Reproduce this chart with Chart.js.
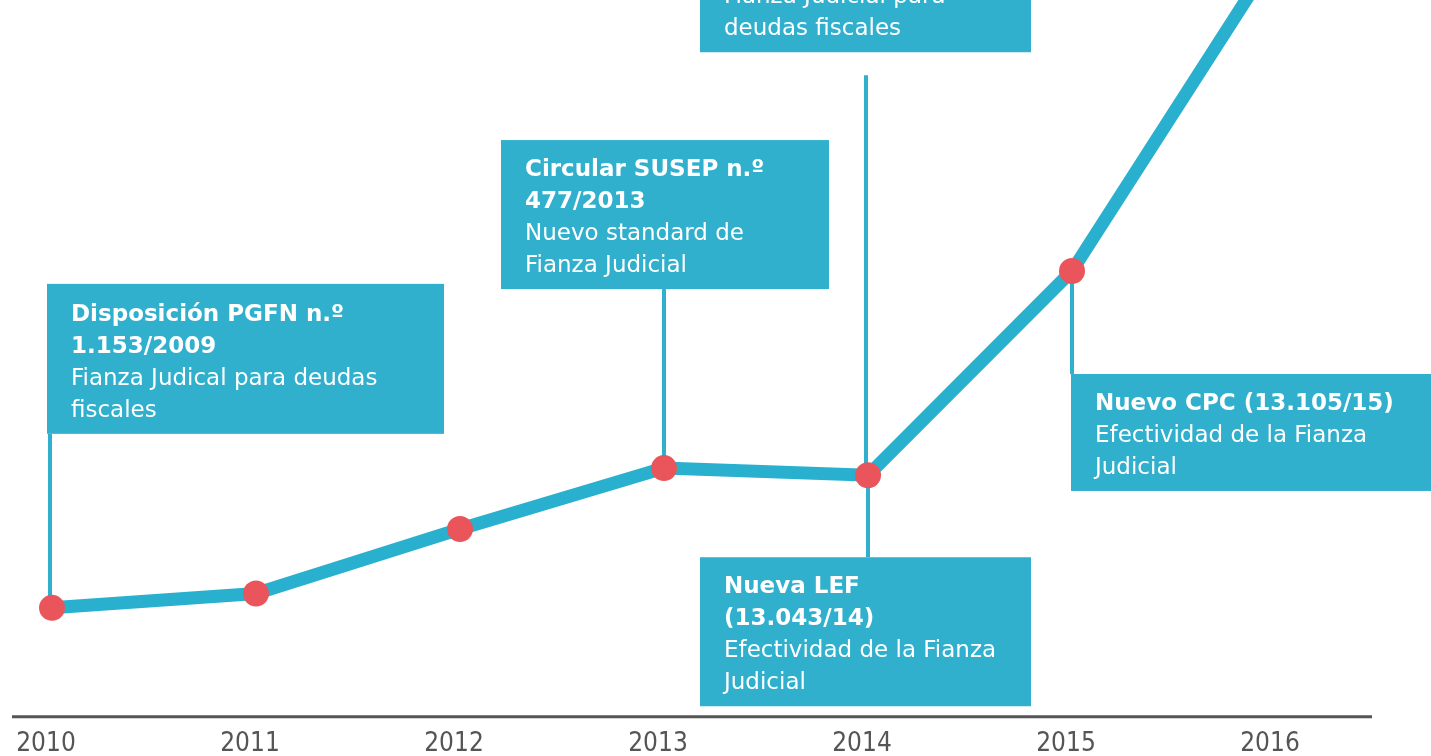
<!DOCTYPE html>
<html>
<head>
<meta charset="utf-8">
<script src="https://cdn.jsdelivr.net/npm/chart.js@4"></script>
<style>
html,body{margin:0;padding:0;background:#fff;}
#wrap{width:1431px;height:756px;position:relative;overflow:hidden;}
</style>
</head>
<body>
<div id="wrap"><canvas id="fianzaChart"></canvas></div>
<script>
const years = ["2010", "2011", "2012", "2013", "2014", "2015", "2016"];
const volume = [15.2, 17.2, 26.2, 34.7, 33.7, 62.2, 106.5];

// milestone boxes: which point they hang from, the text, and where the box sits relative to it
const notes = [
    {at: 0, title: ["Disposición PGFN n.º", "1.153/2009"], body: ["Fianza Judical para deudas", "fiscales"], dx: -5, dy: -324, w: 397, h: 150, cx: -2, gap: 0},
    {at: 3, title: ["Circular SUSEP n.º", "477/2013"], body: ["Nuevo standard de", "Fianza Judicial"], dx: -163, dy: -328, w: 328, h: 149, cx: 0, gap: 0},
    {at: 4, title: [], body: ["Fianza Judicial para", "deudas fiscales"], dx: -168, dy: -574, w: 331, h: 151, cx: -2, gap: 23},
    {at: 4, title: ["Nueva LEF", "(13.043/14)"], body: ["Efectividad de la Fianza", "Judicial"], dx: -168, dy: 82, w: 331, h: 149, cx: 0, gap: 0},
    {at: 5, title: ["Nuevo CPC (13.105/15)"], body: ["Efectividad de la Fianza", "Judicial"], dx: -1, dy: 103, w: 362, h: 117, cx: 0, gap: 0}
];

const teal = "#31b0ce";
const lineTeal = "#2ab0cf";
const red = "#e9555a";
const boxFont = "'DejaVu Sans', sans-serif";

const notesPlugin = {
    id: "notes",
    beforeDatasetsDraw(chart) {
        const ctx = chart.ctx;
        const pts = chart.getDatasetMeta(0).data;
        const area = chart.chartArea;

        // base line of the time axis
        ctx.save();
        ctx.strokeStyle = "#555";
        ctx.lineWidth = 3;
        ctx.beginPath();
        ctx.moveTo(12, area.bottom);
        ctx.lineTo(1372, area.bottom);
        ctx.stroke();

        notes.forEach(n => {
            const p = pts[n.at];
            const left = p.x + n.dx;
            const top = p.y + n.dy;
            const bottom = top + n.h;

            ctx.strokeStyle = teal;
            ctx.lineWidth = 4;
            ctx.beginPath();
            const lx = p.x + n.cx;
            if (top > p.y) {
                ctx.moveTo(lx, p.y);
                ctx.lineTo(lx, top);
            } else {
                ctx.moveTo(lx, bottom + n.gap);
                ctx.lineTo(lx, p.y);
            }
            ctx.stroke();

            ctx.fillStyle = teal;
            ctx.fillRect(left, top, n.w, n.h);

            const lines = n.title.map(t => [t, true]).concat(n.body.map(t => [t, false]));
            ctx.fillStyle = "#fff";
            ctx.textBaseline = "alphabetic";
            lines.forEach((l, i) => {
                ctx.font = (l[1] ? "bold " : "") + "23px " + boxFont;
                const y = bottom - 17 - (lines.length - 1 - i) * 32;
                ctx.fillText(l[0], left + 24, y);
            });
        });
        ctx.restore();
    }
};

new Chart(document.getElementById("fianzaChart").getContext("2d"), {
    type: "line",
    data: {
        labels: years,
        datasets: [{
            data: volume,
            borderColor: lineTeal,
            borderWidth: 13,
            pointRadius: 13,
            pointBackgroundColor: red,
            pointBorderWidth: 0,
            pointHoverRadius: 13,
            tension: 0,
            clip: false
        }]
    },
    options: {
        responsive: true,
        maintainAspectRatio: false,
        animation: false,
        layout: { autoPadding: false, padding: { left: 52, right: 155, top: 0, bottom: -8 } },
        plugins: { legend: { display: false }, tooltip: { enabled: false } },
        scales: {
            x: {
                grid: { display: false },
                border: { display: false },
                ticks: {
                    color: "#555",
                    padding: 4,
                    labelOffset: -6,
                    maxRotation: 0,
                    font: { family: "'Liberation Sans Narrow', 'DejaVu Sans Condensed', sans-serif", size: 26 }
                }
            },
            y: { display: false, min: 0, max: 100 }
        }
    },
    plugins: [notesPlugin]
});
</script>
</body>
</html>
